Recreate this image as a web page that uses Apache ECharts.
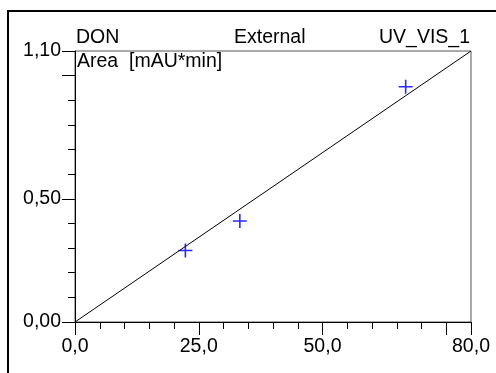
<!DOCTYPE html>
<html><head><meta charset="utf-8">
<script src="https://cdn.jsdelivr.net/npm/echarts@6/dist/echarts.min.js"></script>
<style>html,body{margin:0;padding:0;background:#fff}#c{width:496px;height:373px}</style>
</head><body><div id="c"></div>
<script>
// Data
const pointX = [22.3, 33.3, 66.8];
const pointY = [0.29, 0.41, 0.955];
const fitX = [0, 80];
const fitY = [0, 1.10];
const xTickLabels = ['0,0', '25,0', '50,0', '80,0'];
const yTickLabels = ['0,00', '0,50', '1,10'];
const titleLeft = 'DON', titleCenter = 'External', titleRight = 'UV_VIS_1';
const yAxisTitle = 'Area  [mAU*min]';

const FONT = 'Liberation Sans, Arial, sans-serif';
const FS = 19.5;
const fmtX = v => { const s = v.toFixed(1).replace('.', ','); return xTickLabels.includes(s) ? s : ''; };
const fmtY = v => { const s = v.toFixed(2).replace('.', ','); return yTickLabels.includes(s) ? s : ''; };

const chart = echarts.init(document.getElementById('c'), null, {renderer: 'canvas'});
const grid = {left: 75, top: 51, width: 396, height: 271, show: true, borderColor: '#555', borderWidth: 1};
const cross = 'path://M0,6.2H14V7.8H0Z M6.2,0H7.8V14H6.2Z';
const ts = {fontFamily: FONT, fontSize: FS, fontWeight: 'normal', color: '#000'};
chart.setOption({
  animation: false,
  backgroundColor: '#fff',
  grid: [grid, Object.assign({}, grid, {show: false})],
  title: [
    {text: titleLeft, left: 76, top: 28, textStyle: ts, padding: 0},
    {text: titleCenter, left: 234, top: 28, textStyle: ts, padding: 0},
    {text: titleRight, right: 26, top: 28, textStyle: ts, padding: 0},
    {text: yAxisTitle, left: 77, top: 52, textStyle: ts, padding: 0}
  ],
  xAxis: [
    {type: 'value', gridIndex: 0, min: 0, max: 80, interval: 5, splitLine: {show: false},
     axisLine: {lineStyle: {color: '#000', width: 1}}, axisTick: {length: 7, lineStyle: {color: '#000'}},
     axisLabel: {show: false}},
    {type: 'value', gridIndex: 1, min: 0, max: 80, interval: 25, splitLine: {show: false},
     axisLine: {show: false}, axisTick: {length: 13, lineStyle: {color: '#000'}},
     axisLabel: {formatter: fmtX, margin: 15, color: '#000', fontFamily: FONT, fontSize: FS, showMaxLabel: true}}
  ],
  yAxis: [
    {type: 'value', gridIndex: 0, min: 0, max: 1.1, interval: 0.1, splitLine: {show: false},
     axisLine: {lineStyle: {color: '#000', width: 1}}, axisTick: {length: 7, lineStyle: {color: '#000'}},
     axisLabel: {show: false}},
    {type: 'value', gridIndex: 1, min: 0, max: 1.1, interval: 0.5, splitLine: {show: false},
     axisLine: {show: false}, axisTick: {length: 13, lineStyle: {color: '#000'}},
     axisLabel: {formatter: fmtY, margin: 14, color: '#000', fontFamily: FONT, fontSize: FS, showMaxLabel: true}}
  ],
  graphic: [{type: 'rect', shape: {x: 8, y: 11, width: 700, height: 600}, style: {fill: 'none', stroke: '#000', lineWidth: 2}, silent: true}],
  series: [
    {type: 'line', xAxisIndex: 0, yAxisIndex: 0, data: fitX.map((x, i) => [x, fitY[i]]), showSymbol: false,
     lineStyle: {color: '#000', width: 1}},
    {type: 'scatter', xAxisIndex: 0, yAxisIndex: 0, data: pointX.map((x, i) => [x, pointY[i]]), symbol: cross, symbolSize: 14,
     itemStyle: {color: '#2828ff', opacity: 1}}
  ]
});
</script></body></html>
